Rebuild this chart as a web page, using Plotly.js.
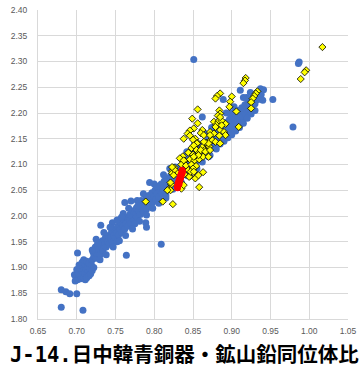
<!DOCTYPE html>
<html>
<head>
<meta charset="utf-8">
<script src="https://cdn.plot.ly/plotly-3.0.1.min.js"></script>
<style>html,body{margin:0;padding:0;background:#fff;}#chart{width:363px;height:374px;}</style>
</head>
<body>
<div id="chart"></div>
<script>
// Series 1: blue (circles)
const blueX = [
0.680,0.708,0.680,0.686,0.691,0.700,0.701,0.731,0.746,0.764,0.789,0.790,0.809,0.851,0.987,0.986,0.953,0.979,0.911,0.889,0.862,0.794,0.806,0.770,0.762,0.740,
0.697,0.699,0.701,0.703,0.705,0.707,0.709,0.711,0.702,0.706,0.710,0.713,0.700,0.704,0.708,0.712,0.715,0.703,0.707,0.711,0.714,0.717,0.709,0.713,0.716,0.719,0.698,0.713,0.716,0.718,0.720,
0.720,0.721,0.722,0.724,0.725,0.726,0.728,0.729,0.730,0.732,0.733,0.734,0.736,0.737,0.738,0.740,0.741,0.742,0.744,0.745,0.746,0.748,0.749,0.750,
0.752,0.753,0.754,0.756,0.757,0.758,0.760,0.761,0.762,0.764,0.765,0.766,0.768,0.769,0.770,0.772,0.773,0.774,0.776,0.777,0.778,0.780,0.781,0.782,
0.784,0.785,0.786,0.788,0.789,0.790,0.792,0.793,0.794,0.796,0.797,0.798,0.800,0.801,0.802,0.804,0.805,0.806,0.808,0.809,0.810,0.812,0.813,0.814,
0.816,0.817,0.818,0.820,0.821,0.822,0.824,0.825,0.826,0.828,0.829,0.830,0.832,0.833,0.834,0.836,0.837,0.838,0.840,0.841,0.842,0.844,0.845,0.846,
0.848,0.849,0.850,0.852,0.853,0.854,0.856,0.857,0.858,0.860,0.861,0.862,0.864,0.865,0.866,0.868,0.869,0.870,0.872,0.873,0.874,0.876,0.877,0.878,
0.880,0.881,0.882,0.884,0.885,0.886,0.888,0.889,0.890,0.892,0.893,0.894,0.896,0.897,0.898,0.900,0.901,0.902,0.904,0.905,0.906,0.908,0.909,0.910,
0.912,0.913,0.914,0.916,0.917,0.918,0.920,0.921,0.922,0.924,0.925,0.926,0.928,0.929,0.930,0.932,0.933,0.934,0.936,0.937,0.938,
0.752,0.775,0.815,0.835,0.855,0.870,0.885,0.895,0.905,0.915,0.925,0.757,0.783,0.827,0.846,0.878,0.899,0.919,
0.725,0.735,0.743,0.752,0.760,0.767,0.778,0.786,0.800,0.812,0.820,0.842,0.852,0.866,0.874,0.880,0.893,0.903,0.915,0.924,
0.722,0.730,0.738,0.747,0.755,0.763,0.772,0.781,0.790,0.798,0.806,0.815,0.824,0.834,0.843,0.852,0.862,0.872,0.880,0.890,0.900,0.910,0.920,0.930,0.940,
0.727,0.720,0.758,0.779,0.803,0.839,0.861,0.883,0.907,0.921,0.941
];
const blueY = [
1.823,1.817,1.857,1.853,1.849,1.849,1.928,1.982,1.987,1.924,1.987,1.978,1.945,2.304,2.299,2.296,2.226,2.173,2.244,2.226,2.192,2.065,2.052,2.029,2.026,1.957,
1.886,1.880,1.876,1.882,1.878,1.884,1.879,1.876,1.890,1.893,1.889,1.885,1.896,1.899,1.902,1.897,1.893,1.905,1.910,1.906,1.902,1.899,1.915,1.912,1.908,1.905,1.874,1.880,1.884,1.888,1.894,
1.915,1.930,1.922,1.940,1.918,1.928,1.935,1.948,1.925,1.940,1.952,1.933,1.945,1.958,1.940,1.950,1.962,1.945,1.958,1.970,1.950,1.962,1.975,1.958,
1.968,1.980,1.963,1.975,1.987,1.968,1.980,1.993,1.975,1.986,1.998,1.980,1.992,2.004,1.985,1.997,2.010,1.992,2.003,2.016,1.998,2.010,2.022,2.003,
2.015,2.027,2.008,2.020,2.033,2.013,2.026,2.040,2.020,2.032,2.045,2.026,2.038,2.050,2.032,2.044,2.056,2.037,2.049,2.062,2.043,2.055,2.068,2.048,
2.060,2.073,2.054,2.066,2.078,2.060,2.072,2.084,2.066,2.078,2.090,2.071,2.084,2.096,2.077,2.089,2.101,2.083,2.095,2.107,2.088,2.100,2.113,2.094,
2.106,2.119,2.100,2.112,2.124,2.106,2.118,2.130,2.111,2.123,2.136,2.117,2.129,2.142,2.122,2.135,2.148,2.128,2.141,2.153,2.134,2.146,2.159,2.140,
2.152,2.165,2.146,2.158,2.170,2.151,2.163,2.176,2.157,2.169,2.182,2.163,2.175,2.188,2.169,2.181,2.193,2.174,2.186,2.199,2.180,2.192,2.205,2.186,
2.198,2.210,2.192,2.204,2.216,2.198,2.210,2.222,2.204,2.216,2.227,2.212,2.222,2.232,2.218,2.230,2.238,2.226,2.240,2.247,2.236,
1.950,1.985,2.035,2.065,2.092,2.115,2.140,2.152,2.165,2.180,2.198,1.995,2.030,2.095,2.125,2.170,2.200,2.230,
1.955,1.968,1.978,1.992,2.005,2.015,2.030,2.043,2.062,2.080,2.092,2.125,2.140,2.160,2.172,2.180,2.200,2.212,2.230,2.240,
1.900,1.915,1.925,1.940,1.952,1.962,1.975,1.990,2.002,2.015,2.025,2.040,2.052,2.065,2.078,2.090,2.105,2.118,2.130,2.145,2.158,2.172,2.190,2.205,2.225,
1.947,1.934,1.998,2.020,2.058,2.110,2.140,2.172,2.205,2.225,2.245
];
// Series 2: yellow (diamonds)
const yellowX = [
1.017,0.996,0.994,0.989,0.918,0.917,0.915,0.933,0.931,0.929,0.927,0.925,0.925,0.885,0.881,0.879,0.900,0.898,0.856,0.906,
0.897,0.884,0.885,0.882,0.849,0.856,0.877,0.883,0.887,0.892,0.880,0.909,0.851,0.846,0.843,0.846,0.862,0.860,0.864,0.872,
0.877,0.885,0.890,0.892,0.884,0.838,0.853,0.850,0.856,0.862,0.867,0.873,0.871,0.854,0.848,0.844,0.850,0.858,0.865,0.837,
0.833,0.839,0.846,0.852,0.858,0.863,0.835,0.841,0.848,0.854,0.844,0.850,0.826,0.823,0.829,0.863,0.839,0.846,0.835,0.822,
0.819,0.821,0.858,0.823,0.845,0.853,0.847,0.851,0.789,0.811,0.824,0.826,0.823,0.821,0.817,0.885,0.879,0.887,0.872,0.875,
0.870,0.864,0.879,0.885,0.855,0.851,0.860,0.866,0.872,0.857,0.870,0.851,0.838,0.825,0.857,0.838
];
const yellowY = [
2.328,2.283,2.279,2.266,2.268,2.263,2.258,2.242,2.238,2.233,2.228,2.221,2.209,2.238,2.233,2.228,2.232,2.222,2.207,2.203,
2.212,2.205,2.199,2.195,2.189,2.180,2.183,2.184,2.185,2.179,2.177,2.173,2.170,2.166,2.160,2.156,2.167,2.161,2.157,2.163,
2.160,2.167,2.163,2.157,2.156,2.150,2.150,2.148,2.142,2.134,2.142,2.148,2.135,2.129,2.132,2.123,2.119,2.123,2.128,2.116,
2.112,2.107,2.110,2.108,2.110,2.115,2.100,2.098,2.100,2.097,2.089,2.092,2.094,2.087,2.085,2.085,2.081,2.077,2.053,2.061,
2.052,2.050,2.056,2.083,2.076,2.073,2.086,2.086,2.028,2.028,2.023,2.090,2.095,2.065,2.050,2.192,2.173,2.176,2.157,2.147,
2.141,2.144,2.144,2.141,2.141,2.137,2.128,2.125,2.128,2.118,2.115,2.115,2.108,2.079,2.079,2.060
];
// Series 3: red
const redX = [0.830,0.830,0.831,0.831,0.832,0.832,0.833,0.833,0.834,0.834,0.835,0.835,0.836,0.836,0.832,0.834,0.836];
const redY = [2.055,2.058,2.061,2.064,2.066,2.069,2.071,2.073,2.076,2.078,2.080,2.082,2.084,2.086,2.062,2.074,2.089];

const xTicks = [0.65,0.70,0.75,0.80,0.85,0.90,0.95,1.00,1.05];
const yTicks = [1.80,1.85,1.90,1.95,2.00,2.05,2.10,2.15,2.20,2.25,2.30,2.35,2.40];
const titleText = 'J-14.日中韓青銅器・鉱山鉛同位体比';

const traces = [
  {x: blueX, y: blueY, type: 'scatter', mode: 'markers', hoverinfo: 'skip',
   marker: {color: '#4472C4', size: 7, symbol: 'circle', line: {width: 0}}},
  {x: yellowX, y: yellowY, type: 'scatter', mode: 'markers', hoverinfo: 'skip',
   marker: {color: '#FFFF00', size: 5.5, symbol: 'diamond', line: {color: '#000000', width: 0.8}}},
  {x: redX, y: redY, type: 'scatter', mode: 'markers', hoverinfo: 'skip',
   marker: {color: '#FF0000', size: 7, symbol: 'circle', line: {width: 0}}}
];

const axisFont = {family: 'Liberation Sans, Arial, sans-serif', size: 8.5, color: '#595959'};
const layout = {
  width: 363, height: 374,
  margin: {l: 38, r: 15, t: 10, b: 55, pad: 0},
  paper_bgcolor: '#ffffff', plot_bgcolor: '#ffffff',
  showlegend: false,
  xaxis: {range: [0.65, 1.05], tickvals: xTicks, ticktext: xTicks.map(v => v.toFixed(2)),
          showgrid: true, gridcolor: '#d9d9d9', gridwidth: 1, zeroline: false,
          showline: true, linecolor: '#d9d9d9', linewidth: 1, ticks: '', tickfont: axisFont,
          ticklabelstandoff: 4, fixedrange: true},
  yaxis: {range: [1.80, 2.40], tickvals: yTicks, ticktext: yTicks.map(v => v.toFixed(2)),
          showgrid: true, gridcolor: '#d9d9d9', gridwidth: 1, zeroline: false,
          showline: true, linecolor: '#d9d9d9', linewidth: 1, ticks: '', tickfont: axisFont,
          ticklabelstandoff: 8, fixedrange: true},
  annotations: [{
    text: '<b>' + titleText + '</b>', xref: 'paper', yref: 'paper',
    x: -0.097, y: -0.116, xanchor: 'left', yanchor: 'middle', showarrow: false,
    font: {family: 'DejaVu Sans Mono, Noto Sans CJK JP, sans-serif', size: 20.5, color: '#000000'}
  }]
};
Plotly.newPlot('chart', traces, layout, {displayModeBar: false, staticPlot: true});
</script>
</body>
</html>
